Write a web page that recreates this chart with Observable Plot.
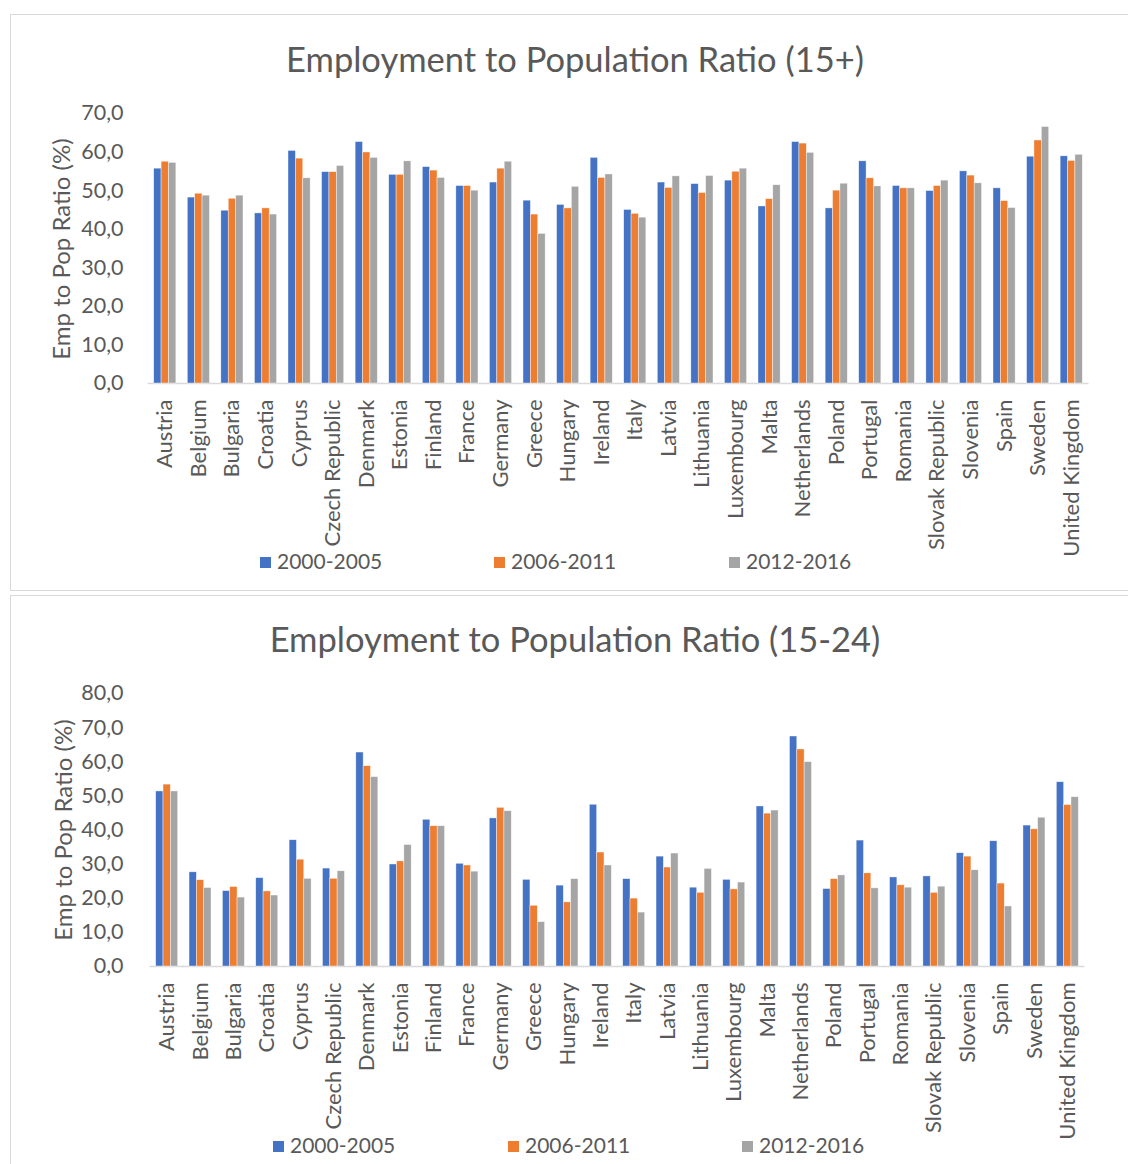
<!DOCTYPE html>
<html>
<head>
<meta charset="utf-8">
<script src="https://cdn.jsdelivr.net/npm/d3@7"></script>
<script src="https://cdn.jsdelivr.net/npm/@observablehq/plot@0.6"></script>
<style>
  html, body { margin: 0; padding: 0; background: #fff; width: 1128px; height: 1164px; overflow: hidden; }
  body { position: relative; font-family: Lato, "Open Sans", sans-serif; color: #595959; }
  .box { position: absolute; left: 10px; width: 1130px; border: 1.5px solid #d9d9d9; box-sizing: border-box; }
  .title { position: absolute; left: 0; width: 1150px; text-align: center; font-size: 34.5px; line-height: 1; }
  .ylab { position: absolute; font-size: 24px; white-space: nowrap; transform: translate(-50%, -50%) rotate(-90deg); line-height: 1; }
  .chart { position: absolute; left: 0; }
  .legend { position: absolute; font-size: 21px; line-height: 1; white-space: nowrap; }
  .legend span.sw { display: inline-block; width: 11px; height: 11px; margin-right: 6px; vertical-align: 1px; }
  .legend .item { position: absolute; top: 0; }
</style>
</head>
<body>
<div class="box" style="top:14px; height:577px;"></div>
<div class="box" style="top:595px; height:600px;"></div>
<div class="title" style="top:42px;">Employment to Population Ratio (15+)</div>
<div class="title" style="top:622px;">Employment to Population Ratio (15-24)</div>
<div class="ylab" style="left:61px; top:249px;">Emp to Pop Ratio (%)</div>
<div class="ylab" style="left:63px; top:830px;">Emp to Pop Ratio (%)</div>
<div id="c1" class="chart" style="top:90px;"></div>
<div id="c2" class="chart" style="top:670px;"></div>
<div id="l1" class="legend" style="top:550px; left:0;"></div>
<div id="l2" class="legend" style="top:1134px; left:0;"></div>
<script>
const countries = ["Austria","Belgium","Bulgaria","Croatia","Cyprus","Czech Republic","Denmark","Estonia","Finland","France","Germany","Greece","Hungary","Ireland","Italy","Latvia","Lithuania","Luxembourg","Malta","Netherlands","Poland","Portugal","Romania","Slovak Republic","Slovenia","Spain","Sweden","United Kingdom"];
const series = ["2000-2005","2006-2011","2012-2016"];
const colors = ["#4472C4","#ED7D31","#A5A5A5"];

// Employment to Population Ratio (15+)
const all_2000_2005 = [55.7,48.2,44.8,44.1,60.3,54.8,62.6,54.1,56.1,51.2,52.1,47.4,46.3,58.5,45.0,52.1,51.7,52.6,45.9,62.6,45.4,57.6,51.2,49.9,55.0,50.6,58.8,58.9];
const all_2006_2011 = [57.5,49.2,47.9,45.4,58.3,54.8,59.9,54.1,55.2,51.2,55.7,43.8,45.4,53.3,44.0,50.7,49.4,54.9,47.8,62.2,50.0,53.2,50.6,51.2,53.9,47.3,63.0,57.7];
const all_2012_2016 = [57.2,48.7,48.7,43.8,53.2,56.4,58.5,57.6,53.3,50.0,57.5,38.8,51.0,54.2,43.0,53.7,53.8,55.7,51.4,59.8,51.8,51.1,50.6,52.6,51.9,45.5,66.5,59.3];

// Employment to Population Ratio (15-24)
const youth_2000_2005 = [51.3,27.6,22.1,25.9,37.0,28.7,62.7,29.9,43.0,30.1,43.4,25.4,23.7,47.4,25.6,32.2,23.1,25.4,46.9,67.4,22.7,36.9,26.1,26.4,33.2,36.7,41.3,54.0];
const youth_2006_2011 = [53.3,25.3,23.3,22.0,31.3,25.7,58.7,30.8,41.1,29.6,46.5,17.8,18.8,33.4,19.9,29.0,21.6,22.6,44.8,63.6,25.6,27.3,23.8,21.6,32.2,24.3,40.2,47.3];
const youth_2012_2016 = [51.3,23.0,20.2,20.8,25.7,27.9,55.5,35.6,41.1,27.8,45.5,13.0,25.6,29.6,15.8,33.1,28.6,24.6,45.7,59.9,26.7,22.9,23.1,23.4,28.2,17.6,43.6,49.6];

const yTicks1 = [0,10,20,30,40,50,60,70];
const yTicks2 = [0,10,20,30,40,50,60,70,80];

function toRows(arrs) {
  const rows = [];
  countries.forEach((c, i) => {
    series.forEach((s, j) => rows.push({country: c, series: s, value: arrs[j][i]}));
  });
  return rows;
}
const fmt = d => d.toFixed(1).replace(".", ",");

function makeChart(rows, ticks, ml, mr, mt, mb) {
  const plotW = 1128 - ml - mr;
  const step = plotW / countries.length;
  const gapHalf = step * 0.34 / 2;
  const bandStart = ml + step * 0.17;
  const labelRight = 123;
  return Plot.plot({
    width: 1128,
    height: 480,
    marginLeft: ml,
    marginRight: mr,
    marginTop: mt,
    marginBottom: mb,
    style: {color: "#595959", fontFamily: "Lato, 'Open Sans', sans-serif", background: "transparent"},
    fx: {domain: countries, paddingInner: 0.34, paddingOuter: 0.17, round: false, label: null},
    x: {domain: series, padding: 0, round: false, axis: null},
    y: {domain: [0, ticks[ticks.length - 1]], label: null},
    color: {domain: series, range: colors},
    marks: [
      Plot.ruleY([0], {stroke: "#d9d9d9", strokeWidth: 1.5, insetLeft: -gapHalf - 0.5, insetRight: -gapHalf - 0.5}),
      Plot.barY(rows, {fx: "country", x: "series", y: "value", fill: "series", stroke: "white", strokeWidth: 0.6, strokeOpacity: 0.7}),
      Plot.axisY({ticks: ticks, tickFormat: fmt, tickSize: 0, tickPadding: bandStart - labelRight, fontSize: 21.5, label: null}),
      Plot.axisFx({anchor: "bottom", tickRotate: -90, tickSize: 0, tickPadding: 16, fontSize: 22, label: null})
    ]
  });
}

document.getElementById("c1").appendChild(makeChart(toRows([all_2000_2005, all_2006_2011, all_2012_2016]), yTicks1, 148, 40, 23, 187));
document.getElementById("c2").appendChild(makeChart(toRows([youth_2000_2005, youth_2006_2011, youth_2012_2016]), yTicks2, 150, 44, 23, 184));

function legend(id, xs) {
  const el = document.getElementById(id);
  series.forEach((s, i) => {
    const it = document.createElement("div");
    it.className = "item";
    it.style.left = xs[i] + "px";
    it.innerHTML = `<span class="sw" style="background:${colors[i]}"></span>${s}`;
    el.appendChild(it);
  });
}
legend("l1", [260, 494, 729]);
legend("l2", [273, 508, 742]);
</script>
</body>
</html>
